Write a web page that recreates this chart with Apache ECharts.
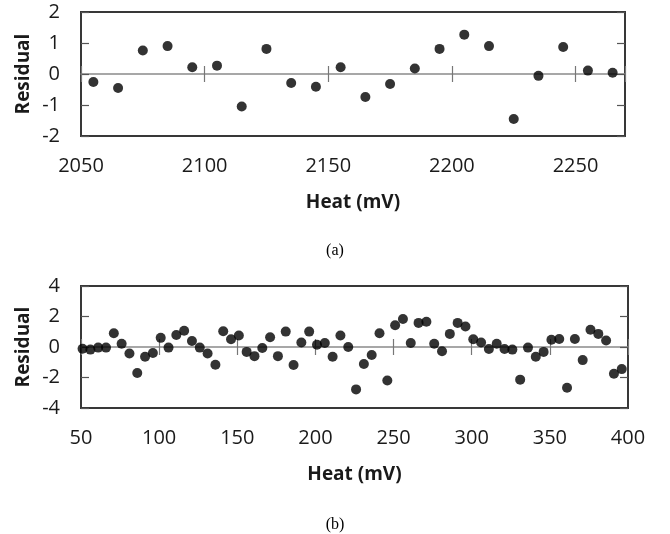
<!DOCTYPE html>
<html>
<head>
<meta charset="utf-8">
<script src="https://cdn.jsdelivr.net/npm/echarts@6/dist/echarts.min.js"></script>
<style>
  html, body { margin: 0; padding: 0; background: #fff; }
  #chart { width: 670px; height: 534px; }
</style>
</head>
<body>
<div id="chart"></div>
<script>
// Panel (a): residuals over the 2050–2270 mV range
const heatA = [2055, 2065, 2075, 2085, 2095, 2105, 2115, 2125, 2135, 2145, 2155,
               2165, 2175, 2185, 2195, 2205, 2215, 2225, 2235, 2245, 2255, 2265];
const residualA = [-0.26, -0.45, 0.76, 0.90, 0.22, 0.27, -1.05, 0.81, -0.29, -0.41, 0.22,
                   -0.74, -0.32, 0.18, 0.81, 1.27, 0.90, -1.45, -0.06, 0.87, 0.11, 0.04];

// Panel (b): residuals over the 50–400 mV range
const heatB = [51, 56, 61, 66, 71, 76, 81, 86, 91, 96,
               101, 106, 111, 116, 121, 126, 131, 136, 141, 146,
               151, 156, 161, 166, 171, 176, 181, 186, 191, 196,
               201, 206, 211, 216, 221, 226, 231, 236, 241, 246,
               251, 256, 261, 266, 271, 276, 281, 286, 291, 296,
               301, 306, 311, 316, 321, 326, 331, 336, 341, 346,
               351, 356, 361, 366, 371, 376, 381, 386, 391, 396];
const residualB = [-0.11, -0.17, -0.04, -0.04, 0.90, 0.21, -0.43, -1.71, -0.64, -0.39,
                   0.60, -0.04, 0.79, 1.07, 0.39, -0.04, -0.43, -1.16, 1.03, 0.51,
                   0.75, -0.32, -0.60, -0.06, 0.64, -0.60, 1.01, -1.18, 0.30, 1.01,
                   0.15, 0.26, -0.64, 0.75, 0.00, -2.78, -1.11, -0.53, 0.90, -2.20,
                   1.43, 1.84, 0.26, 1.58, 1.65, 0.21, -0.28, 0.86, 1.58, 1.35,
                   0.51, 0.30, -0.13, 0.21, -0.13, -0.17, -2.14, -0.04, -0.64, -0.32,
                   0.47, 0.53, -2.67, 0.53, -0.86, 1.13, 0.86, 0.43, -1.75, -1.45];

// Axis ranges and tick labels
const xRangeA = { min: 2050, max: 2270, step: 50 };
const yTicksA = [-2, -1, 0, 1, 2];
const xRangeB = { min: 50, max: 400, step: 50 };
const yTicksB = [-4, -2, 0, 2, 4];

const xTitle = 'Heat (mV)';
const yTitle = 'Residual';
const panelLabels = ['(a)', '(b)'];

const FONT = 'Open Sans';
const TEXT_COLOR = '#1a1a1a';
const FRAME = '#383838';
const ZERO_LINE = '#8a8a8a';

function pairs(xs, ys) {
  return xs.map((x, i) => [x, ys[i]]);
}

const plainNumber = v => String(v);

// Three x axes per panel: one carrying the labels along the bottom,
// two riding on y = 0 so their ticks cross the zero line.
function xAxesFor(grid, range) {
  const base = {
    gridIndex: grid, type: 'value',
    min: range.min, max: range.max, interval: range.step,
    splitLine: { show: false }
  };
  return [
    Object.assign({}, base, {
      position: 'bottom',
      axisLine: { show: false, onZero: false },
      axisTick: { show: false },
      axisLabel: {
        fontFamily: FONT, fontSize: 20, color: TEXT_COLOR, margin: 20,
        formatter: plainNumber,
        showMinLabel: true, showMaxLabel: range.max % range.step === 0
      },
      name: xTitle, nameLocation: 'middle', nameGap: 57, nameMoveOverlap: false,
      nameTextStyle: { fontFamily: FONT, fontSize: 19, fontWeight: 'bold', color: TEXT_COLOR }
    }),
    Object.assign({}, base, {
      position: 'bottom',
      axisLine: { show: true, onZero: true, lineStyle: { color: ZERO_LINE, width: 1.5 } },
      axisTick: { show: true, inside: true, length: 8, lineStyle: { color: '#777', width: 1.2 } },
      axisLabel: { show: false }
    }),
    Object.assign({}, base, {
      position: 'bottom',
      axisLine: { show: false, onZero: true },
      axisTick: { show: true, inside: false, length: 8, lineStyle: { color: '#777', width: 1.2 } },
      axisLabel: { show: false }
    })
  ];
}

function yAxesFor(grid, ticks) {
  const base = {
    gridIndex: grid, type: 'value',
    min: ticks[0], max: ticks[ticks.length - 1], interval: ticks[1] - ticks[0],
    splitLine: { show: false }
  };
  return [
    Object.assign({}, base, {
      position: 'left',
      axisLine: { show: false, onZero: false },
      axisTick: { show: true, inside: true, length: 8, lineStyle: { color: '#555', width: 1.2 } },
      axisLabel: { fontFamily: FONT, fontSize: 20, color: TEXT_COLOR, margin: 21, formatter: plainNumber },
      name: yTitle, nameLocation: 'middle', nameRotate: 90, nameGap: 48, nameMoveOverlap: false,
      nameTextStyle: { fontFamily: FONT, fontSize: 19, fontWeight: 'bold', color: TEXT_COLOR }
    }),
    Object.assign({}, base, {
      position: 'right',
      axisLine: { show: false, onZero: false },
      axisTick: { show: true, inside: true, length: 8, lineStyle: { color: '#555', width: 1.2 } },
      axisLabel: { show: false }
    })
  ];
}

const chart = echarts.init(document.getElementById('chart'), null, { renderer: 'canvas' });

chart.setOption({
  animation: false,
  backgroundColor: '#ffffff',
  title: [
    { text: panelLabels[0], left: 'center', top: 238,
      textStyle: { fontFamily: 'Liberation Serif', fontSize: 16, fontWeight: 'normal', color: '#000' } },
    { text: panelLabels[1], left: 'center', top: 512,
      textStyle: { fontFamily: 'Liberation Serif', fontSize: 16, fontWeight: 'normal', color: '#000' } }
  ],
  grid: [
    { left: 81, top: 12, width: 544, height: 124, show: true,
      borderColor: FRAME, borderWidth: 2, backgroundColor: 'transparent' },
    { left: 81, top: 286, width: 547, height: 122, show: true,
      borderColor: FRAME, borderWidth: 2, backgroundColor: 'transparent' }
  ],
  xAxis: xAxesFor(0, xRangeA).concat(xAxesFor(1, xRangeB)),
  yAxis: yAxesFor(0, yTicksA).concat(yAxesFor(1, yTicksB)),
  series: [
    { type: 'scatter', xAxisIndex: 0, yAxisIndex: 0, data: pairs(heatA, residualA),
      symbol: 'circle', symbolSize: 10, itemStyle: { color: '#000' }, z: 5 },
    { type: 'scatter', xAxisIndex: 3, yAxisIndex: 2, data: pairs(heatB, residualB),
      symbol: 'circle', symbolSize: 10, itemStyle: { color: '#000' }, z: 5 }
  ]
});
</script>
</body>
</html>
